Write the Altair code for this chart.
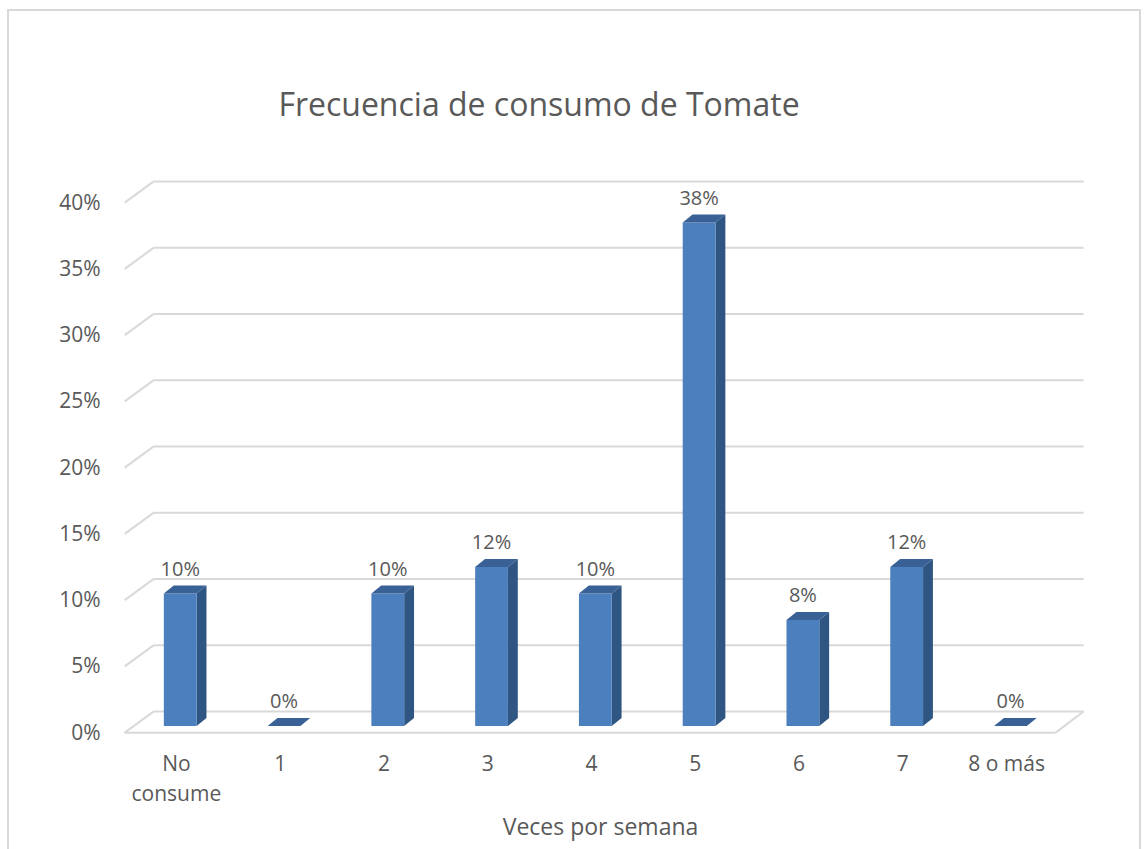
import altair as alt
import pandas as pd

categories = ["No consume", "1", "2", "3", "4", "5", "6", "7", "8 o más"]
values = [0.10, 0.00, 0.10, 0.12, 0.10, 0.38, 0.08, 0.12, 0.00]
tick_values = [0.0, 0.05, 0.10, 0.15, 0.20, 0.25, 0.30, 0.35, 0.40]
title_text = "Frecuencia de consumo de Tomate"
x_title = "Veces por semana"

# pseudo-3D geometry (style constants)
HALF_W = 0.158   # half width of bar front face (x units)
SHIFT = -0.045   # front face centre shift
DEPTH_X = 0.095  # bar depth, x units
DEPTH_Y = 0.006  # bar depth, y units
WALL_DY = 0.011
FRONT_DY = 0.005
FRONT_X0, BACK_X0, BACK_X1, FRONT_X1 = -0.58, -0.30, 8.66, 8.39

FONT = "Open Sans"
GRAY = "#595959"
FRONT_C, SIDE_C, TOP_C = "#4C7FBE", "#2F5582", "#3A6196"

n = len(categories)
front = pd.DataFrame({
    "i": list(range(n)), "v": values,
    "x": [i + SHIFT - HALF_W for i in range(n)],
    "x2": [i + SHIFT + HALF_W for i in range(n)],
    "lbl": [f"{round(v*100)}%" for v in values],
    "cx": [i + SHIFT for i in range(n)],
})
front["zero"] = 0.0

side_rows, top_rows = [], []
for i, v in enumerate(values):
    xl = i + SHIFT - HALF_W
    xr = i + SHIFT + HALF_W
    if v > 0:
        side_rows += [
            {"i": i, "x": xr, "lo": 0.0, "hi": v},
            {"i": i, "x": xr + DEPTH_X, "lo": DEPTH_Y, "hi": v + DEPTH_Y},
        ]
    top_rows += [
        {"i": i, "x": xl, "lo": v, "hi": v},
        {"i": i, "x": xl + DEPTH_X, "lo": v, "hi": v + DEPTH_Y},
        {"i": i, "x": xr, "lo": v, "hi": v + DEPTH_Y},
        {"i": i, "x": xr + DEPTH_X, "lo": v + DEPTH_Y, "hi": v + DEPTH_Y},
    ]
side = pd.DataFrame(side_rows)
top = pd.DataFrame(top_rows)

grid_rows = []
for t in tick_values:
    grid_rows.append({"x": BACK_X0, "x2": BACK_X1, "y": t + WALL_DY, "y2": t + WALL_DY})
    grid_rows.append({"x": FRONT_X0, "x2": BACK_X0, "y": t - FRONT_DY, "y2": t + WALL_DY})
grid_rows.append({"x": FRONT_X0, "x2": FRONT_X1, "y": -FRONT_DY, "y2": -FRONT_DY})
grid_rows.append({"x": FRONT_X1, "x2": BACK_X1, "y": -FRONT_DY, "y2": WALL_DY})
grid = pd.DataFrame(grid_rows)

xscale = alt.Scale(domain=[-0.5, n - 0.5], nice=False, zero=False)
yscale = alt.Scale(domain=[0, 0.4], nice=False, zero=False)

label_arr = "[" + ",".join(
    "['No','consume']" if c == "No consume" else "'" + c + "'" for c in categories
) + "]"

xaxis = alt.Axis(values=list(range(n)), labelExpr=label_arr + "[datum.value]",
                 title=x_title, grid=False, domain=False, ticks=False,
                 labelPadding=27, labelOffset=-9, labelFontSize=21, labelColor=GRAY,
                 labelFont=FONT, labelLineHeight=30,
                 titleFontSize=23, titleColor=GRAY, titleFont=FONT,
                 titleFontWeight="normal", titlePadding=12)
yaxis = alt.Axis(values=tick_values, format=".0%", title=None, grid=False,
                 domain=False, ticks=False, labelPadding=33, labelOffset=7,
                 labelFontSize=21, labelColor=GRAY, labelFont=FONT)

border = alt.Chart(pd.DataFrame({"a": [0]})).mark_rect(
    fill=None, stroke="#d9d9d9", strokeWidth=2
).encode(x=alt.value(-125), x2=alt.value(1007), y=alt.value(-186), y2=alt.value(700))

title = alt.Chart(pd.DataFrame({"t": [title_text]})).mark_text(
    font=FONT, fontSize=32, color=GRAY, align="center", baseline="alphabetic"
).encode(x=alt.value(406), y=alt.value(-80), text="t:N")

gridlines = alt.Chart(grid).mark_rule(color="#d9d9d9", strokeWidth=2).encode(
    x=alt.X("x:Q", scale=xscale, axis=xaxis), x2="x2:Q",
    y=alt.Y("y:Q", scale=yscale, axis=yaxis), y2="y2:Q",
)

front_faces = alt.Chart(front).transform_filter("datum.v > 0").mark_rect(color=FRONT_C).encode(
    x=alt.X("x:Q", scale=xscale), x2="x2:Q",
    y=alt.Y("zero:Q", scale=yscale), y2="v:Q",
)

side_faces = alt.Chart(side).mark_area(color=SIDE_C, orient="vertical").encode(
    x=alt.X("x:Q", scale=xscale), y=alt.Y("lo:Q", scale=yscale), y2="hi:Q",
    detail="i:N",
)

top_faces = alt.Chart(top).mark_area(color=TOP_C, orient="vertical").encode(
    x=alt.X("x:Q", scale=xscale), y=alt.Y("lo:Q", scale=yscale), y2="hi:Q",
    detail="i:N",
)

labels = alt.Chart(front).mark_text(
    font=FONT, fontSize=20, color=GRAY, dy=-24, baseline="middle"
).encode(
    x=alt.X("cx:Q", scale=xscale), y=alt.Y("v:Q", scale=yscale), text="lbl:N"
)

chart = alt.layer(border, title, gridlines, side_faces, front_faces, top_faces, labels).properties(
    width=934, height=530,
    autosize=alt.AutoSizeParams(type="none"),
    padding={"left": 133, "top": 196, "right": 80, "bottom": 123},
).configure(background="white").configure_view(stroke="transparent", strokeWidth=0)

chart.save("out.html", embed_options={"renderer": "svg", "actions": False})
